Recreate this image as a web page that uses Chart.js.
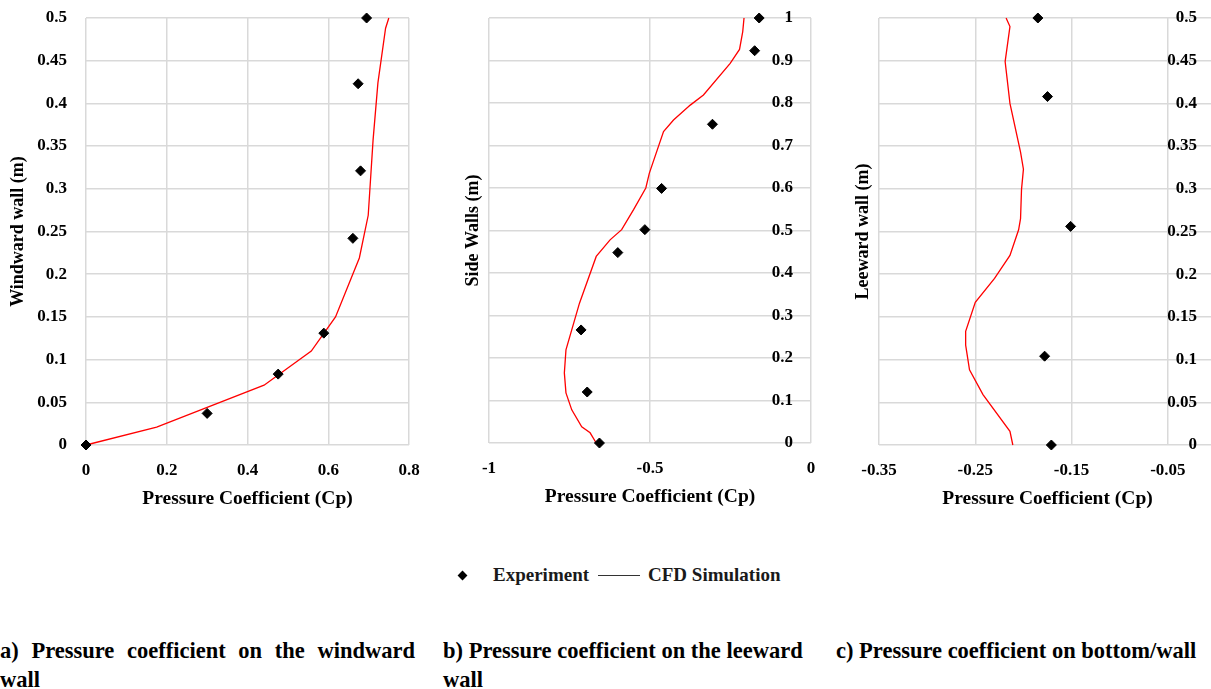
<!DOCTYPE html>
<html>
<head>
<meta charset="utf-8">
<script src="https://cdn.jsdelivr.net/npm/chart.js"></script>
<style>
  html, body { margin: 0; padding: 0; background: #fff; width: 1211px; height: 689px; overflow: hidden; }
  body { position: relative; font-family: "Liberation Serif", serif; font-weight: bold; color: #000; }
  canvas { position: absolute; top: 0; }
  #legend { position: absolute; top: 563px; left: 455px; height: 24px; display: flex; align-items: center; font-size: 19px; color: #1a1a1a; }
  #legend .dia { width: 7px; height: 7px; background: #000; transform: rotate(45deg); margin: 0 27px 0 4px; }
  #legend .ln { width: 42px; height: 0; border-top: 1.5px solid #333; margin: 0 8px 0 9px; }
  .cap { position: absolute; top: 636px; font-size: 22.5px; line-height: 29px; }
</style>
</head>
<body>
<canvas id="chartA" width="424" height="520" style="left:0px"></canvas>
<canvas id="chartB" width="400" height="520" style="left:420px"></canvas>
<canvas id="chartC" width="396" height="520" style="left:820px"></canvas>

<div id="legend"><span class="dia"></span>Experiment<span class="ln"></span>CFD Simulation</div>

<div class="cap" style="left:0px; width:415px; text-align:justify;">a) Pressure coefficient on the windward wall</div>
<div class="cap" style="left:443px; width:390px;">b) Pressure coefficient on the leeward wall</div>
<div class="cap" style="left:836px; width:375px;">c) Pressure coefficient on bottom/wall</div>

<script>
// a) windward wall
const windExpCp = [0, 0.30, 0.476, 0.589, 0.661, 0.680, 0.674, 0.695];
const windExpH  = [0, 0.037, 0.083, 0.131, 0.242, 0.321, 0.423, 0.5];
const windCfdCp = [0, 0.175, 0.441, 0.558, 0.618, 0.677, 0.699, 0.711, 0.723, 0.742, 0.750];
const windCfdH  = [0, 0.021, 0.070, 0.110, 0.150, 0.219, 0.269, 0.357, 0.424, 0.488, 0.5];

// b) side walls
const sideExpCp = [-0.657, -0.695, -0.714, -0.600, -0.516, -0.464, -0.306, -0.175, -0.161];
const sideExpH  = [0, 0.120, 0.266, 0.448, 0.502, 0.599, 0.750, 0.923, 1.0];
const sideCfdCp = [-0.667, -0.686, -0.712, -0.743, -0.761, -0.766, -0.761, -0.719, -0.667, -0.624, -0.588,
                   -0.551, -0.513, -0.502, -0.458, -0.427, -0.375, -0.334, -0.251, -0.222, -0.212, -0.208];
const sideCfdH  = [0, 0.024, 0.038, 0.078, 0.118, 0.165, 0.219, 0.329, 0.439, 0.478, 0.502,
                   0.549, 0.600, 0.635, 0.733, 0.760, 0.795, 0.819, 0.893, 0.926, 0.968, 1.0];

// c) leeward wall
const leeExpCp = [-0.171, -0.178, -0.151, -0.175, -0.185];
const leeExpH  = [0, 0.104, 0.256, 0.408, 0.5];
const leeCfdCp = [-0.211, -0.214, -0.242, -0.256, -0.260, -0.260, -0.250, -0.230, -0.214, -0.205, -0.203,
                  -0.202, -0.200, -0.203, -0.214, -0.219, -0.214, -0.218];
const leeCfdH  = [0, 0.016, 0.059, 0.088, 0.117, 0.133, 0.167, 0.195, 0.222, 0.252, 0.265,
                  0.299, 0.323, 0.343, 0.400, 0.449, 0.490, 0.5];

const leeXTicks = [-0.35, -0.25, -0.15, -0.05];

const tickFont = { family: 'Liberation Serif', weight: 'bold', size: 17 };
const xTitleFont = { family: 'Liberation Serif', weight: 'bold', size: 19.5 };
const yTitleFont = { family: 'Liberation Serif', weight: 'bold', size: 18 };
const gridStyle = { color: '#d9d9d9', lineWidth: 1.5, drawTicks: false };
const fmt = v => String(Number(v.toFixed(3)));

function toPoints(xs, ys) {
    return xs.map((x, i) => ({ x: x, y: ys[i] }));
}

function datasets(expX, expY, cfdX, cfdY) {
    return [{
        label: 'Experiment',
        data: toPoints(expX, expY),
        pointStyle: 'rectRot',
        pointRadius: 5,
        backgroundColor: '#000',
        borderColor: '#000',
        clip: false
    }, {
        label: 'CFD Simulation',
        data: toPoints(cfdX, cfdY),
        showLine: true,
        pointRadius: 0,
        borderColor: '#ff0000',
        borderWidth: 1.3,
        clip: false
    }];
}

// fixed axis sizes, and no extra room asked for by the end labels
function fixHeight(h) {
    return s => { s.height = h; s.paddingLeft = 0; s.paddingRight = 0; };
}
function fixWidth(w) {
    return s => { s.width = w; s.paddingTop = 0; s.paddingBottom = 0; };
}

function xAxis(min, max, step, height, titleBottom) {
    return {
        type: 'linear', min: min, max: max,
        ticks: { stepSize: step, padding: 15, font: tickFont, color: '#000', callback: fmt },
        grid: gridStyle,
        border: { display: false },
        title: { display: true, text: 'Pressure Coefficient (Cp)', font: xTitleFont, color: '#000',
                 padding: { top: 0, bottom: titleBottom } },
        afterFit: fixHeight(height)
    };
}

const basePlugins = { legend: { display: false }, tooltip: { enabled: false } };

// panel a
new Chart(document.getElementById('chartA'), {
    type: 'scatter',
    data: { datasets: datasets(windExpCp, windExpH, windCfdCp, windCfdH) },
    options: {
        responsive: false, animation: false,
        layout: { autoPadding: false, padding: { top: 18, right: 15, bottom: 0, left: 0 } },
        plugins: basePlugins,
        scales: {
            x: xAxis(0, 0.8, 0.2, 75, 9),
            y: {
                type: 'linear', min: 0, max: 0.5,
                ticks: { stepSize: 0.05, padding: 19, font: tickFont, color: '#000', callback: fmt },
                grid: gridStyle,
                border: { display: false },
                title: { display: true, text: 'Windward wall (m)', font: yTitleFont, color: '#000',
                         padding: { top: 7.5, bottom: 0 } },
                afterFit: fixWidth(86)
            }
        }
    }
});

// panel b
new Chart(document.getElementById('chartB'), {
    type: 'scatter',
    data: { datasets: datasets(sideExpCp, sideExpH, sideCfdCp, sideCfdH) },
    options: {
        responsive: false, animation: false,
        layout: { autoPadding: false, padding: { top: 18, right: 9, bottom: 0, left: 0 } },
        plugins: basePlugins,
        scales: {
            x: xAxis(-1, 0, 0.5, 77, 11),
            yTitle: {
                type: 'linear', position: 'left', min: 0, max: 1,
                ticks: { display: false },
                grid: { display: false },
                border: { display: false },
                title: { display: true, text: 'Side Walls (m)', font: yTitleFont, color: '#000',
                         padding: { top: 42.5, bottom: 0 } },
                afterFit: fixWidth(69)
            },
            y: {
                type: 'linear', position: 'right', min: 0, max: 1,
                ticks: { stepSize: 0.1, mirror: true, padding: -18, font: tickFont, color: '#000', callback: fmt },
                grid: gridStyle,
                border: { display: false },
                afterFit: fixWidth(0)
            }
        }
    }
});

// panel c
new Chart(document.getElementById('chartC'), {
    type: 'scatter',
    data: { datasets: datasets(leeExpCp, leeExpH, leeCfdCp, leeCfdH) },
    options: {
        responsive: false, animation: false,
        layout: { autoPadding: false, padding: { top: 18, right: 0, bottom: 0, left: 0 } },
        plugins: basePlugins,
        scales: {
            x: Object.assign(xAxis(-0.35, 0, 0.1, 75, 9), {
                afterBuildTicks: s => { s.ticks = leeXTicks.map(v => ({ value: v })); }
            }),
            yTitle: {
                type: 'linear', position: 'left', min: 0, max: 0.5,
                ticks: { display: false },
                grid: { display: false },
                border: { display: false },
                title: { display: true, text: 'Leeward wall (m)', font: yTitleFont, color: '#000',
                         padding: { top: 32.5, bottom: 0 } },
                afterFit: fixWidth(59)
            },
            y: {
                type: 'linear', position: 'right', min: 0, max: 0.5,
                ticks: { stepSize: 0.05, mirror: true, padding: -19, font: tickFont, color: '#000', callback: fmt },
                grid: gridStyle,
                border: { display: false },
                afterFit: fixWidth(0)
            }
        }
    }
});
</script>
</body>
</html>
